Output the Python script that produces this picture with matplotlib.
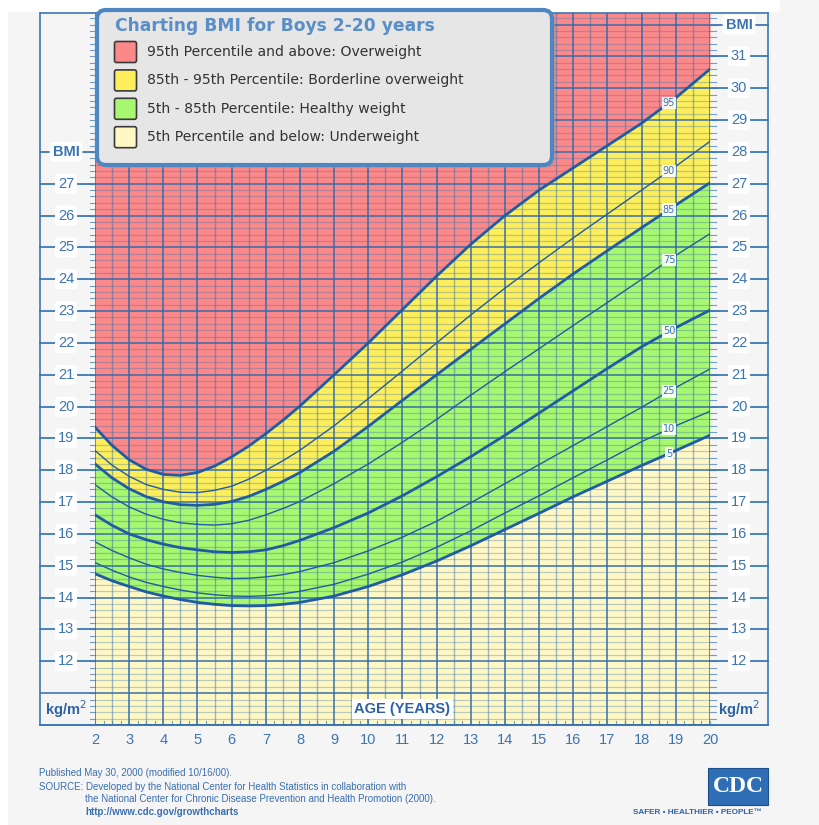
import numpy as np
import matplotlib
matplotlib.use('Agg')
import matplotlib.pyplot as plt
from matplotlib.patches import FancyBboxPatch, Rectangle

# CDC BMI-for-age percentiles, boys 2-20
ages = [2, 2.5, 3, 3.5, 4, 4.5, 5, 5.5, 6, 6.5, 7, 7.5, 8,
        9, 10, 11, 12, 13, 14, 15, 16, 17, 18, 19, 20]
p5 = [14.75, 14.53, 14.35, 14.18, 14.05, 13.94, 13.85, 13.79, 13.75, 13.74, 13.75, 13.79, 13.85,
      14.05, 14.35, 14.72, 15.15, 15.63, 16.14, 16.65, 17.17, 17.66, 18.15, 18.62, 19.1]
p10 = [15.1, 14.86, 14.65, 14.48, 14.35, 14.24, 14.15, 14.09, 14.05, 14.04, 14.06, 14.12, 14.2,
       14.42, 14.74, 15.12, 15.58, 16.1, 16.66, 17.2, 17.77, 18.33, 18.9, 19.4, 19.85]
p25 = [15.75, 15.48, 15.25, 15.05, 14.9, 14.79, 14.7, 14.64, 14.6, 14.61, 14.65, 14.72, 14.82,
       15.1, 15.47, 15.9, 16.4, 16.98, 17.58, 18.18, 18.78, 19.38, 19.98, 20.6, 21.18]
p50 = [16.6, 16.27, 16.0, 15.82, 15.68, 15.57, 15.5, 15.44, 15.42, 15.44, 15.5, 15.63, 15.8,
       16.2, 16.66, 17.2, 17.8, 18.43, 19.1, 19.8, 20.5, 21.2, 21.88, 22.48, 23.03]
p75 = [17.55, 17.16, 16.85, 16.62, 16.46, 16.35, 16.3, 16.28, 16.32, 16.43, 16.6, 16.8, 17.02,
       17.58, 18.2, 18.88, 19.6, 20.36, 21.1, 21.82, 22.55, 23.27, 24.0, 24.75, 25.43]
p85 = [18.2, 17.76, 17.42, 17.17, 17.01, 16.92, 16.9, 16.93, 17.02, 17.18, 17.4, 17.65, 17.93,
       18.6, 19.38, 20.2, 21.0, 21.8, 22.6, 23.4, 24.17, 24.9, 25.62, 26.33, 27.03]
p90 = [18.62, 18.16, 17.81, 17.55, 17.4, 17.31, 17.3, 17.37, 17.5, 17.72, 18.0, 18.3, 18.63,
       19.4, 20.25, 21.12, 22.0, 22.88, 23.72, 24.52, 25.3, 26.05, 26.8, 27.55, 28.33]
p95 = [19.35, 18.78, 18.33, 18.03, 17.87, 17.84, 17.93, 18.13, 18.42, 18.76, 19.15, 19.57, 20.02,
       21.0, 22.0, 23.05, 24.1, 25.1, 26.0, 26.8, 27.5, 28.2, 28.9, 29.7, 30.6]

curve_names = ['5', '10', '25', '50', '75', '85', '90', '95']
curves = [p5, p10, p25, p50, p75, p85, p90, p95]
thick = ['5', '50', '85', '95']

age_ticks = list(range(2, 21))
left_labels = list(range(12, 28))
right_labels = list(range(12, 32))

legend_title = 'Charting BMI for Boys 2-20 years'
legend_items = ['95th Percentile and above: Overweight',
                '85th - 95th Percentile: Borderline overweight',
                '5th - 85th Percentile: Healthy weight',
                '5th Percentile and below: Underweight']

RED = '#fb8989'
YEL = '#fdee5c'
GRN = '#a7f771'
LYE = '#fff8c4'
BLUE = '#2f6aad'
LINE = '#1f5ca3'
TXT = '#3b74b3'

W, H = 820, 825
fig = plt.figure(figsize=(W / 100, H / 100), dpi=100, facecolor='#f5f5f5')

x0, x1 = 95, 710
y_top, y_bot = 13, 725
ymin = 10
ymax = 10 + (y_bot - y_top) / 31.84
ax = fig.add_axes([x0 / W, 1 - y_bot / H, (x1 - x0) / W, (y_bot - y_top) / H])
ax.set_xlim(2, 20)
ax.set_ylim(ymin, ymax)
for s in ax.spines.values():
    s.set_visible(False)

# coloured bands
ax.fill_between(ages, p95, 40, color=RED, lw=0, zorder=1)
ax.fill_between(ages, p85, p95, color=YEL, lw=0, zorder=1)
ax.fill_between(ages, p5, p85, color=GRN, lw=0, zorder=1)
ax.fill_between(ages, 0, p5, color=LYE, lw=0, zorder=1)

# grid paper
ax.set_xticks(age_ticks)
ax.set_xticks(np.arange(2, 20.01, 0.5), minor=True)
ax.set_yticks(np.arange(10, 33))
ax.set_yticks(np.arange(10, 32.4, 0.2), minor=True)
ax.set_axisbelow(False)
ax.grid(which='major', color=BLUE, lw=1.4, alpha=0.75)
ax.grid(which='minor', axis='y', color=BLUE, lw=0.9, alpha=0.32)
ax.grid(which='minor', axis='x', color=BLUE, lw=1.0, alpha=0.45)
ax.tick_params(which='both', length=0, labelleft=False)
ax.tick_params(axis='x', which='major', pad=6, labelsize=10.5, labelcolor=TXT)
for t in ax.get_xticklabels():
    t.set_family('Liberation Sans')

# percentile curves
for name, vals in zip(curve_names, curves):
    lw = 2.0 if name in thick else 1.0
    ax.plot(ages, vals, color=LINE, lw=lw, zorder=4, solid_joinstyle='round')
    lx = 18.8
    ly = np.interp(lx, ages, vals)
    ax.text(lx, ly, name, fontsize=7, color=TXT, ha='center', va='center', zorder=5,
            family='DejaVu Sans',
            bbox=dict(boxstyle='square,pad=0.12', fc='white', ec='none', alpha=0.9))

# side columns
ty = ax.get_yaxis_transform()
tx = ax.get_xaxis_transform()
px = lambda p: (p - x0) / (x1 - x0)
lo, li, lc = px(40), 0.0, px(66)
ri, ro, rc = 1.0, px(768), px(739)
col = '#3c78b6'
box = dict(boxstyle='round,pad=0.2', fc='white', ec='none')

ax.plot([lo, lo], [ymin, ymax], transform=ty, color=col, lw=1.2, clip_on=False)
ax.plot([ro, ro], [ymin, ymax], transform=ty, color=col, lw=1.2, clip_on=False)
ax.plot([lo, ro], [ymax, ymax], transform=ty, color=col, lw=1.2, clip_on=False)
ax.plot([lo, ro], [ymin, ymin], transform=ty, color=col, lw=1.4, clip_on=False)
ax.plot([lo, li], [11, 11], transform=ty, color=col, lw=1.2, clip_on=False)
ax.plot([ri, ro], [11, 11], transform=ty, color=col, lw=1.2, clip_on=False)

for v in left_labels + [28]:
    ax.plot([lo, li], [v, v], transform=ty, color=col, lw=1.3, clip_on=False)
for v in right_labels + [32]:
    ax.plot([ri, ro], [v, v], transform=ty, color=col, lw=1.3, clip_on=False)
for v in left_labels:
    ax.text(lc, v, str(v), transform=ty, ha='center', va='center', fontsize=10.5,
            color=TXT, family='Liberation Sans', bbox=box, clip_on=False)
for v in right_labels:
    ax.text(rc, v, str(v), transform=ty, ha='center', va='center', fontsize=10.5,
            color=TXT, family='Liberation Sans', bbox=box, clip_on=False)
ax.text(lc, 28, 'BMI', transform=ty, ha='center', va='center', fontsize=10.5,
        color=TXT, weight='bold', family='Liberation Sans', bbox=box, clip_on=False)
ax.text(rc, 32, 'BMI', transform=ty, ha='center', va='center', fontsize=10.5,
        color=TXT, weight='bold', family='Liberation Sans', bbox=box, clip_on=False)
ax.text(lc, 10.5, 'kg/m$^2$', transform=ty, ha='center', va='center', fontsize=10.5,
        color='#2c62a3', weight='bold', family='Liberation Sans', clip_on=False)
ax.text(rc, 10.5, 'kg/m$^2$', transform=ty, ha='center', va='center', fontsize=10.5,
        color='#2c62a3', weight='bold', family='Liberation Sans', clip_on=False)
ax.text(11, 10.5, 'AGE (YEARS)', ha='center', va='center', fontsize=10.5,
        color='#2c62a3', weight='bold', family='Liberation Sans', zorder=6,
        bbox=dict(boxstyle='square,pad=0.2', fc='white', ec='none'))

# small ticks on inner edges
for v in np.arange(10, 32.3, 0.2):
    ax.plot([-5 / 615, 0], [v, v], transform=ty, color=col, lw=0.8, alpha=0.7, clip_on=False)
    ax.plot([1, 1 + 6 / 615], [v, v], transform=ty, color=col, lw=0.8, alpha=0.7, clip_on=False)
for a in np.arange(2, 20.01, 0.25):
    ax.plot([a, a], [0, 4 / 712], transform=tx, color=col, lw=0.8, alpha=0.7, clip_on=False, zorder=5)

# overlay in pixel coordinates: legend box, notes, logo
ov = fig.add_axes([0, 0, 1, 1])
ov.set_xlim(0, W)
ov.set_ylim(H, 0)
ov.axis('off')
ov.patch.set_alpha(0)
ov.add_patch(Rectangle((0, 0), 780, 12, fc='white', ec='none'))
ov.add_patch(Rectangle((0, 0), 8, H, fc='white', ec='none'))

ov.add_patch(FancyBboxPatch((100, 13), 455, 155, boxstyle='round,pad=0,rounding_size=9',
                            fc='#9a9a9a', ec='none', alpha=0.45))
ov.add_patch(FancyBboxPatch((97, 10), 455, 155, boxstyle='round,pad=0,rounding_size=9',
                            fc='#e6e6e6', ec='#4d87c2', lw=3))
ov.text(115, 26, legend_title, fontsize=12.3, weight='bold', color='#5a8ec6',
        va='center', ha='left', family='DejaVu Sans')
swatch_cols = [RED, YEL, GRN, LYE]
for i, (lab, c) in enumerate(zip(legend_items, swatch_cols)):
    yc = 52 + i * 28.4
    ov.add_patch(FancyBboxPatch((114.5, yc - 10.5), 22, 21, boxstyle='round,pad=0,rounding_size=2',
                                fc=c, ec='#3a3a3a', lw=1.2))
    ov.text(147, yc, lab, fontsize=10.1, color='#333333', va='center', ha='left', family='DejaVu Sans')

note = dict(fontsize=7.05, color='#3a6fb0', family='Liberation Sans', va='center', ha='left')
ov.text(39, 773, 'Published May 30, 2000 (modified 10/16/00).', **note)
ov.text(39, 787, 'SOURCE: Developed by the National Center for Health Statistics in collaboration with', **note)
ov.text(85, 799, 'the National Center for Chronic Disease Prevention and Health Promotion (2000).', **note)
ov.text(85, 812, 'http://www.cdc.gov/growthcharts', weight='bold', **note)

ov.add_patch(Rectangle((708, 768), 60, 37, fc='#2f6db5', ec='#1d4f8f', lw=0.8))
ov.text(738, 786.5, 'CDC', fontsize=17, weight='bold', color='white', family='Liberation Serif',
        ha='center', va='center')
ov.text(697, 813, 'SAFER \u2022 HEALTHIER \u2022 PEOPLE\u2122', fontsize=5.9, weight='bold', color='#2d63a8',
        family='Liberation Sans', ha='center', va='center')

fig.savefig('out.png', dpi=100, facecolor=fig.get_facecolor())
